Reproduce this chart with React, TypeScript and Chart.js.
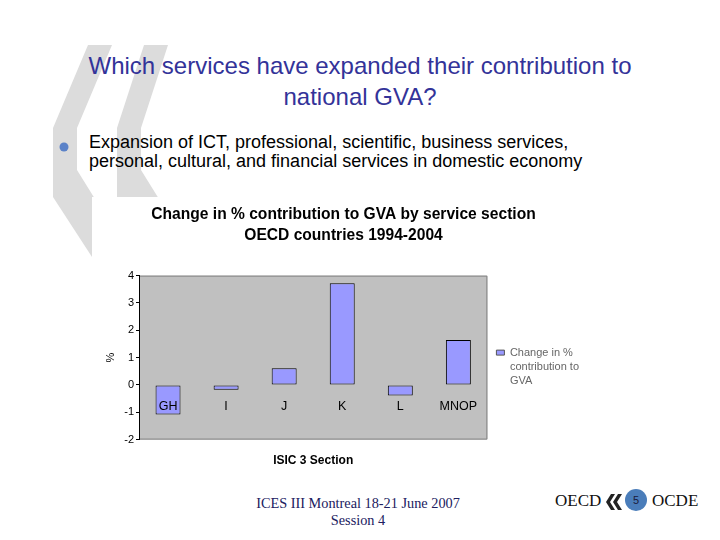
import React, { useEffect, useRef } from 'react';
import { Chart, registerables } from 'chart.js';

Chart.register(...registerables);

const categories = ['GH', 'I', 'J', 'K', 'L', 'MNOP'];
const changeValues = [-1.08, -0.18, 0.61, 3.72, -0.39, 1.64];
const yTickValues = [-2, -1, 0, 1, 2, 3, 4];
const legendLines = ['Change in %', 'contribution to', 'GVA'];
const chartTitleLines = ['Change in % contribution to GVA by service section', 'OECD countries 1994-2004'];
const xAxisTitle = 'ISIC 3 Section';
const yAxisTitle = '%';
const slideTitleLines = ['Which services have expanded their contribution to', 'national GVA?'];
const bulletLines = [
  'Expansion of ICT, professional, scientific, business services,',
  'personal, cultural, and financial services in domestic economy',
];
const footerLines = ['ICES III Montreal 18-21 June 2007', 'Session 4'];
const pageNumber = '5';

const SANS = 'Arial, "Liberation Sans", sans-serif';
const SERIF = '"Times New Roman", "Liberation Serif", serif';

const plotFrame = {
  id: 'plotFrame',
  beforeDraw(chart: any) {
    const { ctx, chartArea: a } = chart;
    ctx.save();
    ctx.fillStyle = '#C0C0C0';
    ctx.fillRect(a.left, a.top, a.right - a.left, a.bottom - a.top);
    ctx.strokeStyle = '#808080';
    ctx.lineWidth = 1;
    ctx.beginPath();
    ctx.moveTo(a.left, a.top + 0.5);
    ctx.lineTo(a.right - 0.5, a.top + 0.5);
    ctx.lineTo(a.right - 0.5, a.bottom - 0.5);
    ctx.lineTo(a.left, a.bottom - 0.5);
    ctx.stroke();
    ctx.restore();
  },
};

const legendGap = {
  id: 'legendGap',
  afterLayout(chart: any) {
    if (chart.legend) {
      chart.legend.left += 6;
      chart.legend.right += 6;
    }
  },
};

function GvaChart() {
  const ref = useRef<HTMLCanvasElement>(null);
  useEffect(() => {
    if (!ref.current) return;
    const chart = new Chart(ref.current, {
      type: 'bar',
      data: {
        labels: categories,
        datasets: [
          {
            label: legendLines.join(' '),
            data: changeValues,
            backgroundColor: '#9999FF',
            borderColor: '#000000',
            borderWidth: 1,
            borderSkipped: false,
            barPercentage: 0.43,
            categoryPercentage: 1,
            xAxisID: 'x',
            yAxisID: 'y',
          },
        ],
      },
      options: {
        responsive: true,
        maintainAspectRatio: false,
        animation: false,
        layout: { padding: { left: 12, right: 19, top: 0, bottom: 8 } },
        plugins: {
          tooltip: { enabled: false },
          title: {
            display: true,
            text: chartTitleLines,
            color: '#000',
            font: { family: SANS, size: 15.6, weight: 'bold', lineHeight: 1.35 },
            padding: { top: 7.5, bottom: 29 },
          },
          legend: {
            display: true,
            position: 'right',
            align: 'center',
            fullSize: false,
            title: {
              display: true,
              text: '',
              font: { size: 1, lineHeight: 1 },
              padding: { top: 0, bottom: 17 },
            },
            labels: {
              boxWidth: 8,
              boxHeight: 5,
              padding: 3,
              color: '#000',
              font: { family: SANS, size: 11, lineHeight: 1.2 },
              generateLabels: () =>
                legendLines.map((t, i) => ({
                  text: t,
                  fillStyle: i === 0 ? '#9999FF' : 'rgba(0,0,0,0)',
                  strokeStyle: i === 0 ? '#555' : 'rgba(0,0,0,0)',
                  lineWidth: i === 0 ? 1 : 0,
                  hidden: false,
                  datasetIndex: 0,
                })),
            },
          },
        },
        scales: {
          x: {
            type: 'category',
            position: 'bottom',
            grid: { display: false, drawTicks: false },
            border: { display: false },
            ticks: { display: false },
            title: {
              display: true,
              text: xAxisTitle,
              color: '#000',
              font: { family: SANS, size: 12, weight: 'bold' },
              padding: { top: 14, bottom: 4 },
            },
          },
          x2: {
            type: 'category',
            axis: 'x',
            position: { y: 0 },
            labels: categories,
            grid: { display: false, drawTicks: false },
            border: { display: false },
            ticks: { z: 1, color: '#000', font: { family: SANS, size: 12.5 }, padding: 14 },
          },
          y: {
            min: -2,
            max: 4,
            afterBuildTicks: (s: any) => {
              s.ticks = yTickValues.map((v) => ({ value: v }));
            },
            afterFit: (s: any) => {
              s.width = 35;
            },
            ticks: { color: '#000', font: { family: SANS, size: 11 }, padding: 2 },
            grid: { drawOnChartArea: false, drawTicks: true, tickLength: 3, color: '#000' },
            border: { display: true, color: '#000' },
            title: {
              display: true,
              text: yAxisTitle,
              color: '#000',
              font: { family: SANS, size: 11 },
              padding: 0,
            },
          },
        },
      },
      plugins: [plotFrame, legendGap],
    });
    return () => chart.destroy();
  }, []);
  return <canvas ref={ref} />;
}

export default function App() {
  return (
    <div
      style={{
        position: 'fixed',
        left: 0,
        top: 0,
        width: 720,
        height: 540,
        background: '#fff',
        overflow: 'hidden',
        fontFamily: SANS,
      }}
    >
      <svg width={720} height={540} style={{ position: 'absolute', left: 0, top: 0 }}>
        <polygon points="88,45 112,45 77,128 77,170 131,257 92,257 53,197 53,128" fill="#DCDCDC" />
        <polygon points="144,45 168,45 141,128 141,170 195,257 156,257 117,197 117,128" fill="#DCDCDC" />
        <circle cx={64} cy={147} r={4.5} fill="#5B82C8" />
        <g fill="#222">
          <polygon points="611,494 615,494 610,502 615,510 611,510 606,502" />
          <polygon points="618,494 622,494 617,502 622,510 618,510 613,502" />
        </g>
        <circle cx={636} cy={500} r={11} fill="#4A7DBA" />
      </svg>
      <div
        style={{
          position: 'absolute',
          left: 0,
          top: 49.5,
          width: 720,
          textAlign: 'center',
          fontSize: 24,
          lineHeight: '31px',
          color: '#333399',
        }}
      >
        {slideTitleLines.map((l, i) => (
          <div key={i}>{l}</div>
        ))}
      </div>
      <div
        style={{
          position: 'absolute',
          left: 89,
          top: 132.5,
          fontSize: 18,
          lineHeight: '19px',
          color: '#000',
          whiteSpace: 'nowrap',
        }}
      >
        {bulletLines.map((l, i) => (
          <div key={i}>{l}</div>
        ))}
      </div>
      <div
        style={{
          position: 'absolute',
          left: 92,
          top: 197,
          width: 510,
          height: 283,
          background: '#fff',
        }}
      >
        <GvaChart />
      </div>
      <div
        style={{
          position: 'absolute',
          left: 158,
          top: 495,
          width: 400,
          textAlign: 'center',
          fontFamily: SERIF,
          fontSize: 14.3,
          lineHeight: '17px',
          color: '#202060',
        }}
      >
        {footerLines.map((l, i) => (
          <div key={i}>{l}</div>
        ))}
      </div>
      <div
        style={{
          position: 'absolute',
          left: 555,
          top: 491,
          fontFamily: SERIF,
          fontSize: 17,
          lineHeight: '20px',
          color: '#111',
        }}
      >
        OECD
      </div>
      <div
        style={{
          position: 'absolute',
          left: 652,
          top: 491,
          fontFamily: SERIF,
          fontSize: 17,
          lineHeight: '20px',
          color: '#111',
        }}
      >
        OCDE
      </div>
      <div
        style={{
          position: 'absolute',
          left: 625,
          top: 492,
          width: 22,
          textAlign: 'center',
          fontFamily: SANS,
          fontSize: 11,
          lineHeight: '16px',
          color: '#1a1a3a',
        }}
      >
        {pageNumber}
      </div>
    </div>
  );
}
